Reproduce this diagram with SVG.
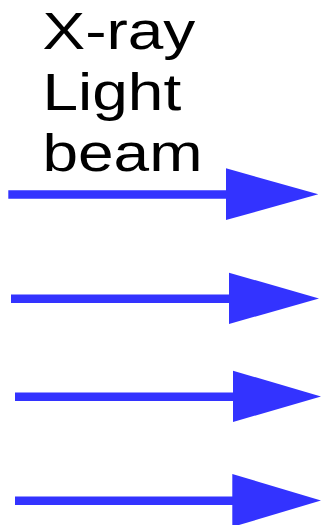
<svg xmlns="http://www.w3.org/2000/svg" width="321" height="525" viewBox="0 0 321 525">
<style>
.lbl{font-family:"Liberation Sans",Arial,sans-serif;font-size:52px;fill:#000}
.shaft{stroke:#3333ff;stroke-width:8.5;fill:none}
.head{fill:#3333ff;stroke:none}
</style>
<rect width="321" height="525" fill="#fff"/>
<g id="label" transform="translate(42.5,0) scale(1.23,1)">
<text class="lbl" x="0" y="49.5">X-ray</text>
<text class="lbl" x="0" y="110.5">Light</text>
<text class="lbl" x="0" y="171.5">beam</text>
</g>
<g id="connectors">
<g id="beam1"><line class="shaft" x1="8.3" y1="194.5" x2="228" y2="194.5"/><polygon class="head" points="226,168.3 318.3,194.3 226,220"/></g>
<g id="beam2"><line class="shaft" x1="11" y1="298.8" x2="231" y2="298.8"/><polygon class="head" points="229,272.7 319,298.5 229,324"/></g>
<g id="beam3"><line class="shaft" x1="15" y1="396.8" x2="235" y2="396.8"/><polygon class="head" points="233,370.7 321,396.5 233,422"/></g>
<g id="beam4"><line class="shaft" x1="15" y1="500.8" x2="234" y2="500.8"/><polygon class="head" points="232.3,474 321,500.5 232.3,527"/></g>
</g>
</svg>
